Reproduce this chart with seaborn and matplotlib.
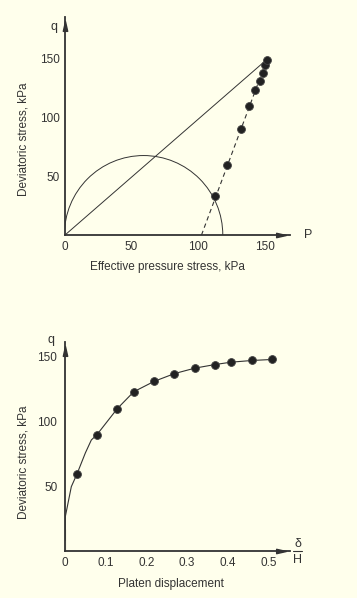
import matplotlib
matplotlib.use("Agg")
import matplotlib.pyplot as plt
from matplotlib.patches import Arc
from matplotlib.path import Path
import seaborn as sns

# ---- data ----
# top: stress path p' - q
path_p = [112.5, 122.0, 132.0, 138.2, 143.0, 146.3, 148.5, 150.3, 151.5]
path_q = [33.5, 60.0, 90.0, 110.0, 123.5, 131.5, 138.0, 145.0, 149.0]
dash_p = [102.5, 151.5]
dash_q = [0.0, 149.0]
env_p = [0.0, 148.5]
env_q = [0.0, 146.5]
circle_center_p = 59.0
circle_radius_p = 59.5
circle_radius_q = 67.7
top_xticks = [0, 50, 100, 150]
top_yticks = [50, 100, 150]

# bottom: q vs platen displacement
disp = [0.0295, 0.0787, 0.1286, 0.169, 0.219, 0.269, 0.319, 0.369, 0.408, 0.459, 0.509]
q_disp = [59.8, 90.2, 110.2, 123.2, 131.2, 137.2, 141.4, 144.2, 146.0, 147.3, 148.1]
curve_x = [0.0, 0.0, 0.0007, 0.0155, 0.0295, 0.05, 0.0647, 0.0787, 0.1286, 0.169,
           0.219, 0.269, 0.319, 0.369, 0.408, 0.459, 0.509]
curve_q = [0.0, 17.0, 26.8, 50.0, 59.8, 76.0, 86.0, 90.2, 110.2, 123.2,
           131.2, 137.2, 141.4, 144.2, 146.0, 147.3, 148.1]
bot_xticks = [0, 0.1, 0.2, 0.3, 0.4, 0.5]
bot_xlabels = ["0", "0.1", "0.2", "0.3", "0.4", "0.5"]
bot_yticks = [50, 100, 150]

BG = "#FFFFEC"
INK = "#333333"
DOT = "#222222"

sns.set_theme(style="white")
plt.rcParams["font.family"] = ["Liberation Sans", "DejaVu Sans"]
plt.rcParams["font.size"] = 8.5

# slender arrowhead markers
ARROW_R = Path([(-1, -0.45), (1, 0), (-1, 0.45), (-1, -0.45)],
               [Path.MOVETO, Path.LINETO, Path.LINETO, Path.CLOSEPOLY])
ARROW_U = Path([(-0.45, -1), (0, 1), (0.45, -1), (-0.45, -1)],
               [Path.MOVETO, Path.LINETO, Path.LINETO, Path.CLOSEPOLY])

fig = plt.figure(figsize=(3.57, 5.98), dpi=100, facecolor=BG)
ax1 = fig.add_axes([0.1821, 0.6070, 0.6303, 0.3651], facecolor=BG)
ax2 = fig.add_axes([0.1821, 0.0778, 0.6303, 0.3508], facecolor=BG)

# ---- top chart ----
sns.lineplot(x=env_p, y=env_q, ax=ax1, color=INK, lw=0.7, sort=False)
sns.lineplot(x=dash_p, y=dash_q, ax=ax1, color=INK, lw=0.8, sort=False,
             linestyle=(0, (4, 3)))
ax1.add_patch(Arc((circle_center_p, 0), 2 * circle_radius_p, 2 * circle_radius_q,
                  theta1=0, theta2=180, color=INK, lw=0.7))
sns.scatterplot(x=path_p, y=path_q, ax=ax1, color=DOT, s=32, edgecolor="#444444",
                linewidth=0.6, zorder=5)
ax1.set_xlim(0, 169)
ax1.set_ylim(0, 186)
ax1.set_xticks(top_xticks)
ax1.set_yticks(top_yticks)
ax1.set_xlabel("Effective pressure stress, kPa")
ax1.set_ylabel("Deviatoric stress, kPa")
ax1.xaxis.set_label_coords(0.456, -0.118)
ax1.yaxis.set_label_coords(-0.16, 0.44)
ax1.tick_params(axis="both", direction="in", length=4, width=1, color=INK,
                labelcolor=INK, labelsize=8.5, pad=4)
ax1.text(-0.035, 0.955, "q", transform=ax1.transAxes, ha="right", va="center",
         color=INK, fontsize=9)
ax1.text(1.08, 0.0, "P", transform=ax1.transAxes, ha="center", va="center",
         color=INK, fontsize=9)

# ---- bottom chart ----
sns.lineplot(x=curve_x, y=curve_q, ax=ax2, color=INK, lw=0.8, sort=False)
sns.scatterplot(x=disp, y=q_disp, ax=ax2, color=DOT, s=32, edgecolor="#444444",
                linewidth=0.6, zorder=5)
ax2.set_xlim(0, 0.553)
ax2.set_ylim(0, 161.8)
ax2.set_xticks(bot_xticks)
ax2.set_xticklabels(bot_xlabels)
ax2.set_yticks(bot_yticks)
ax2.set_xlabel("Platen displacement")
ax2.set_ylabel("Deviatoric stress, kPa")
ax2.xaxis.set_label_coords(0.471, -0.125)
ax2.yaxis.set_label_coords(-0.16, 0.427)
ax2.tick_params(axis="x", direction="in", length=4, width=1, color=INK,
                labelcolor=INK, labelsize=8.5, pad=4)
ax2.tick_params(axis="y", direction="inout", length=7, width=1, color=INK,
                labelcolor=INK, labelsize=8.5, pad=2)
ax2.text(-0.045, 1.01, "q", transform=ax2.transAxes, ha="right", va="center",
         color=INK, fontsize=9)
ax2.text(1.035, 0.005, "δ", transform=ax2.transAxes, ha="center", va="bottom",
         color=INK, fontsize=9)
ax2.text(1.035, -0.01, "H", transform=ax2.transAxes, ha="center", va="top",
         color=INK, fontsize=9)
ax2.plot([1.015, 1.055], [0.0, 0.0], transform=ax2.transAxes, color=INK, lw=0.8,
         clip_on=False)

for ax in (ax1, ax2):
    for side in ("top", "right"):
        ax.spines[side].set_visible(False)
    for side in ("left", "bottom"):
        ax.spines[side].set_color(INK)
        ax.spines[side].set_linewidth(1.3)
    ax.grid(False)
    # arrowheads at axis ends
    ax.plot([0.959], [0], marker=ARROW_R, ms=7, color=INK, transform=ax.transAxes,
            clip_on=False, zorder=6)
    ax.plot([0], [0.957], marker=ARROW_U, ms=7, color=INK, transform=ax.transAxes,
            clip_on=False, zorder=6)
    ax.xaxis.label.set_color(INK)
    ax.yaxis.label.set_color(INK)
    ax.xaxis.label.set_size(8.5)
    ax.yaxis.label.set_size(8.5)

fig.savefig("out.png", dpi=100, facecolor=BG)
